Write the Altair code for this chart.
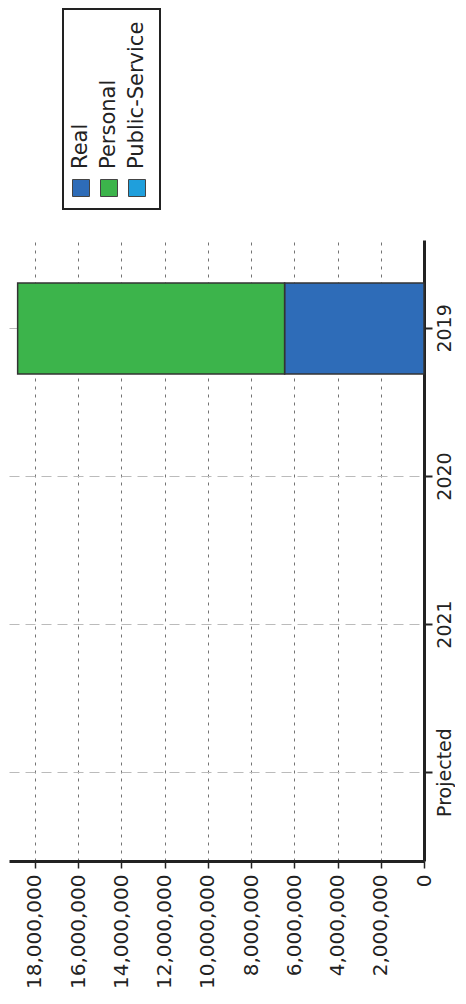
import altair as alt
import pandas as pd

# ---- data ----
years = ["2019", "2020", "2021", "Projected"]
series = ["Real", "Personal", "Public-Service"]
real = [6450000, 0, 0, 0]
personal = [12350000, 0, 0, 0]
public_service = [0, 0, 0, 0]
value_ticks = [0, 2000000, 4000000, 6000000, 8000000, 10000000,
               12000000, 14000000, 16000000, 18000000]
colors = ["#2e6cb8", "#3cb44b", "#1f9fdc"]

FONT = "DejaVu Sans"
INK = "#222222"

rows = []
for i, yr in enumerate(years):
    for k, (name, vals) in enumerate(zip(series, [real, personal, public_service])):
        rows.append({"year": yr, "series": name, "order": k, "value": vals[i]})
df = pd.DataFrame(rows)

color_scale = alt.Scale(domain=series, range=colors)

# ---- main (rotated) bar chart ----
main = (
    alt.Chart(df)
    .transform_filter("datum.value > 0")
    .mark_bar(stroke="#333333", strokeWidth=1.5)
    .encode(
        y=alt.Y(
            "year:N",
            sort=years,
            scale=alt.Scale(domain=years, paddingInner=0.385, paddingOuter=0.29),
            axis=alt.Axis(
                orient="right", title=None, labelAngle=270, labelAlign="center",
                labelBaseline="top", labelFontSize=19, labelFont=FONT, labelColor=INK,
                tickSize=8, tickColor=INK, tickWidth=2, labelPadding=3,
                domainColor=INK, domainWidth=3, grid=True, gridColor="#bbbbbb",
                gridDash=[10, 6], gridWidth=1, bandPosition=0.5,
            ),
        ),
        x=alt.X(
            "value:Q",
            stack="zero",
            scale=alt.Scale(domain=[0, 19200000], reverse=True, nice=False),
            axis=alt.Axis(
                orient="bottom", title=None, values=value_ticks, format=",d",
                labelAngle=270, labelAlign="right", labelBaseline="middle",
                labelFontSize=20, labelFont=FONT, labelColor=INK,
                tickSize=7, tickColor=INK, tickWidth=1.5, labelPadding=6,
                domainColor=INK, domainWidth=3, grid=True, gridColor="#444444",
                gridDash=[3, 5], gridWidth=1, gridOpacity=0.75,
            ),
        ),
        color=alt.Color("series:N", scale=color_scale, legend=None),
        order=alt.Order("order:Q"),
    )
    .properties(width=415, height=621)
)

# ---- hand-built rotated legend ----
leg_df = pd.DataFrame({"series": series})
leg_base = alt.Chart(leg_df).encode(
    x=alt.X("series:N", sort=series,
            scale=alt.Scale(type="point", domain=series, range=[18, 74], padding=0),
            axis=None)
)
swatches = leg_base.mark_square(size=289, stroke="#444444", strokeWidth=1, opacity=1).encode(
    y=alt.value(179),
    color=alt.Color("series:N", scale=color_scale, legend=None),
)
labels = leg_base.mark_text(
    angle=270, align="left", baseline="middle", fontSize=21, font=FONT, color=INK
).encode(y=alt.value(160), text="series:N")

legend = alt.layer(swatches, labels).properties(
    width=97, height=200,
    view=alt.ViewBackground(stroke=INK, strokeWidth=2),
)

spacer = alt.Chart(leg_df).mark_point(opacity=0).properties(
    width=52, height=200, view=alt.ViewBackground(stroke="transparent")
)

top = alt.hconcat(spacer, legend, spacing=0)

chart = (
    alt.vconcat(top, main, spacing=29)
    .properties(padding=0, background="white")
    .configure_view(stroke="transparent")
)

chart.save("out.html", embed_options={"renderer": "svg", "actions": False})
